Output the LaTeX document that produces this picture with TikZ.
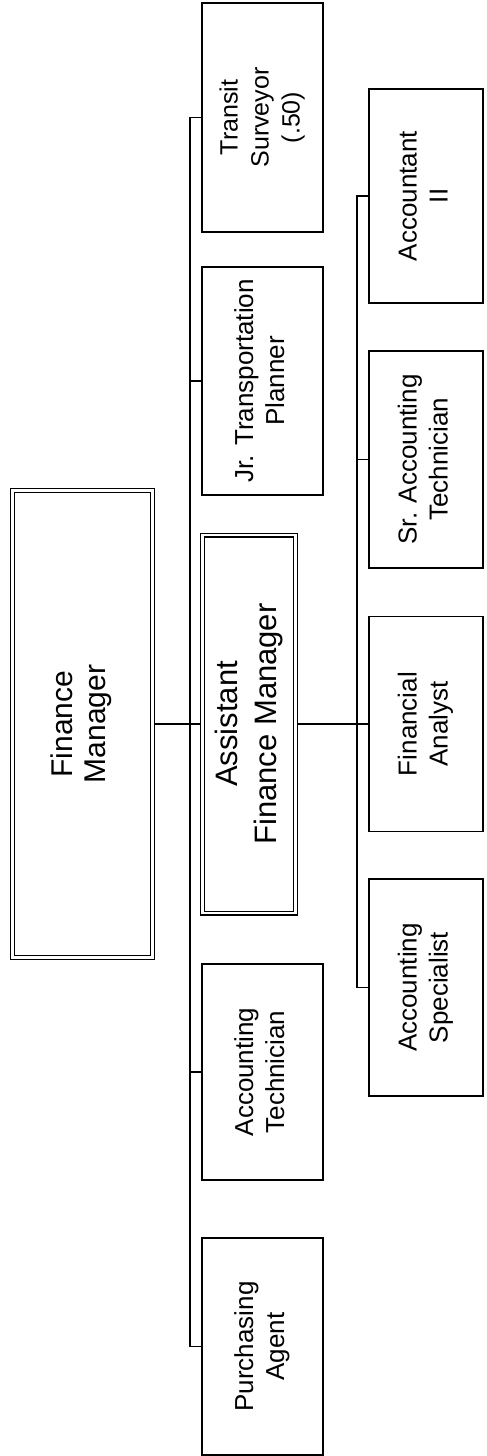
\documentclass[tikz,border=0pt]{standalone}
\usepackage{fontspec}
\setmainfont{Liberation Sans}
\newcommand\rtxt[3]{\rotatebox{90}{\fontsize{#1}{#2}\selectfont\begin{tabular}{@{}c@{}}#3\end{tabular}}}
\begin{document}
\begin{tikzpicture}[x=1pt,y=-1pt,
  box/.style={draw, line width=1.3pt, inner sep=0pt, outer sep=0.6pt},
  dbox/.style={draw, double, line width=1.1pt, double distance=2.8pt, inner sep=0pt, outer sep=2.5pt},
  link/.style={line width=1.1pt}]
\useasboundingbox (0,0) rectangle (487,1456);
\fill[white] (0,0) rectangle (487,1456);
% top manager
\node[dbox, minimum width=140pt, minimum height=467pt] (fm) at (82.5,724) {\rtxt{30}{33}{Finance\\Manager}};
% level 2
\node[box, minimum width=121pt, minimum height=229pt] (ts) at (262.5,117.5) {\rtxt{25}{31}{Transit\\Surveyor\\(.50)}};
\node[box, minimum width=121pt, minimum height=228pt] (jtp) at (262.5,381) {\rtxt{26}{31}{Jr. Transportation\\Planner}};
\node[dbox, minimum width=93pt, minimum height=378pt] (afm) at (249,724) {\rtxt{31}{39}{Assistant\\Finance Manager}};
\node[box, minimum width=121pt, minimum height=216pt] (at) at (262.5,1072) {\rtxt{26}{31}{Accounting\\Technician}};
\node[box, minimum width=121pt, minimum height=217pt] (pa) at (262.5,1346.5) {\rtxt{26}{31}{Purchasing\\Agent}};
% level 3
\node[box, minimum width=114pt, minimum height=214pt] (a2) at (426,196) {\rtxt{26}{31}{Accountant\\II}};
\node[box, minimum width=114pt, minimum height=217pt] (sat) at (426,459.5) {\rtxt{26}{31}{Sr. Accounting\\Technician}};
\node[box, minimum width=114pt, minimum height=215pt] (fa) at (426,724) {\rtxt{26}{31}{Financial\\Analyst}};
\node[box, minimum width=114pt, minimum height=217pt] (as) at (426,987.5) {\rtxt{26}{31}{Accounting\\Specialist}};
% connectors
\coordinate (trk) at (190,0);
\coordinate (trk2) at (357,0);
\draw[link] (ts.west) -- (ts.west -| trk) -- (pa.west -| trk) -- (pa.west);
\draw[link] (jtp.west) -- (jtp.west -| trk);
\draw[link] (at.west) -- (at.west -| trk);
\draw[link] (fm.east) -- (afm.west);
\draw[link] (a2.west) -- (a2.west -| trk2) -- (as.west -| trk2) -- (as.west);
\draw[link] (sat.west) -- (sat.west -| trk2);
\draw[link] (afm.east) -- (fa.west);
\end{tikzpicture}
\end{document}
